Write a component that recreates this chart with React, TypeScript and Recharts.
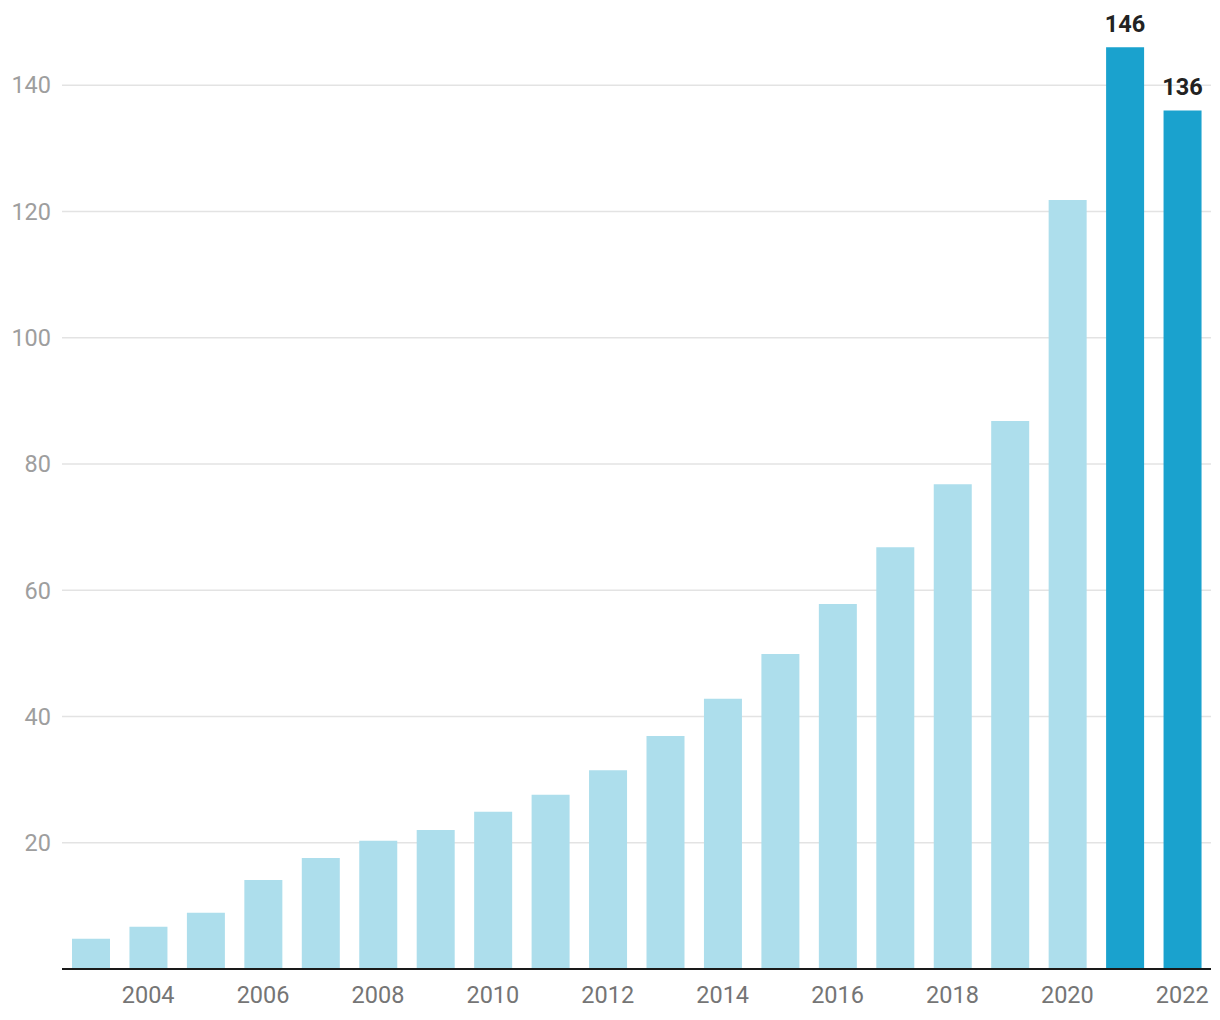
import React from 'react';
import { BarChart, Bar, XAxis, YAxis, CartesianGrid, Cell, LabelList } from 'recharts';

const years = ['2003','2004','2005','2006','2007','2008','2009','2010','2011','2012','2013','2014','2015','2016','2017','2018','2019','2020','2021','2022'];
const values = [4.8, 6.7, 8.9, 14.1, 17.6, 20.3, 22, 24.9, 27.6, 31.5, 36.9, 42.8, 49.9, 57.8, 66.8, 76.8, 86.8, 121.8, 146, 136];
const highlighted = ['2021', '2022'];
const yTicks = [0, 20, 40, 60, 80, 100, 120, 140];
const gridValues = [20, 40, 60, 80, 100, 120, 140];

const data = years.map((y, i) => ({ year: y, value: values[i], hl: highlighted.includes(y) }));

const LIGHT = '#addeec';
const DARK = '#1aa2ce';

export default function App() {
  return (
    <div style={{ position: 'absolute', left: 0, top: 0, width: 1220, height: 1020, background: '#fff', fontFamily: 'Roboto, sans-serif' }}>
      <BarChart width={1220} height={1020} data={data} margin={{ top: 22, right: 9, bottom: 0, left: 0 }} barSize={38}>
        <CartesianGrid vertical={false} stroke="#e3e3e3" strokeWidth={1.5} horizontalValues={gridValues} />
        <YAxis
          domain={[0, 150]}
          ticks={yTicks}
          width={62}
          axisLine={false}
          tickLine={false}
          tickMargin={5}
          tickFormatter={(v: number) => (v === 0 ? '' : String(v))}
          tick={{ fill: '#9e9e9e', fontSize: 23.5, fontFamily: 'Roboto' }}
        />
        <XAxis
          dataKey="year"
          interval={0}
          height={51}
          axisLine={{ stroke: '#1a1a1a', strokeWidth: 2 }}
          tickLine={false}
          tickMargin={11}
          tickFormatter={(v: string) => (parseInt(v, 10) % 2 === 0 ? v : '')}
          tick={{ fill: '#757575', fontSize: 23.5, fontFamily: 'Roboto' }}
        />
        <Bar dataKey="value" isAnimationActive={false}>
          {data.map((d) => (
            <Cell key={d.year} fill={d.hl ? DARK : LIGHT} />
          ))}
          <LabelList
            dataKey="value"
            position="top"
            offset={10}
            content={(props: any) => {
              const { x, y, width, value, index } = props;
              if (!data[index] || !data[index].hl) return null;
              return (
                <text x={x + width / 2} y={y - 15} textAnchor="middle" fill="#222" fontSize={23.5} fontWeight={700} fontFamily="Roboto">
                  {value}
                </text>
              );
            }}
          />
        </Bar>
      </BarChart>
    </div>
  );
}
